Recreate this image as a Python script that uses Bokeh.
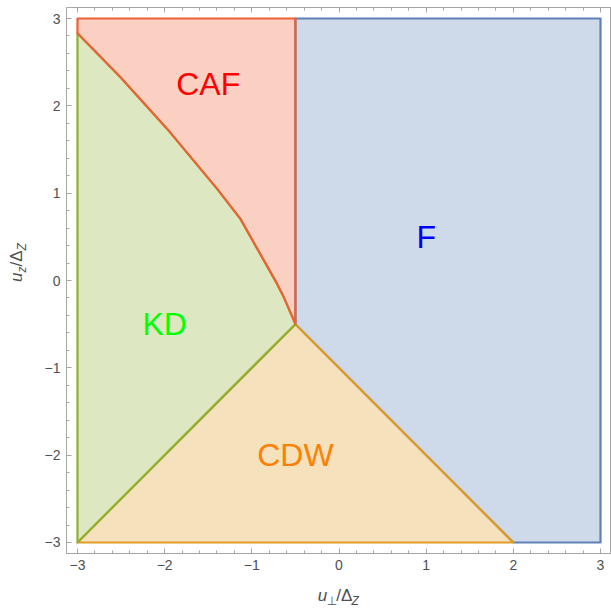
import numpy as np
from bokeh.plotting import figure
from bokeh.layouts import row, column
from bokeh.models import FixedTicker, LinearAxis, Range1d, CustomJSTickFormatter
from bokeh.core.properties import value
from bokeh.embed import file_html
from bokeh.resources import INLINE

# ---- data ----
# KD / CAF boundary curve, from the triple point (-0.5,-0.5) up to the left edge
curve_x = [-0.50, -0.634, -0.71, -1.131, -1.398, -1.971, -2.507, -3.00]
curve_y = [-0.50, -0.19, -0.039, 0.706, 1.049, 1.736, 2.328, 2.83]

f_x = [-0.5, 3.0, 3.0, 2.0, -0.5]
f_y = [3.0, 3.0, -3.0, -3.0, -0.5]
cdw_x = [-3.0, 2.0, -0.5]
cdw_y = [-3.0, -3.0, -0.5]
kd_x = [-3.0] + curve_x
kd_y = [-3.0] + curve_y
caf_x = [-3.0, -0.5] + curve_x
caf_y = [3.0, 3.0] + curve_y

region_names = ["F", "CDW", "KD", "CAF"]
region_xs = [f_x, cdw_x, kd_x, caf_x]
region_ys = [f_y, cdw_y, kd_y, caf_y]
region_colors = ["#5E81B5", "#E19C24", "#8FB032", "#EB6235"]
label_x = [1.0, -0.5, -2.0, -1.5]
label_y = [0.5, -2.0, -0.5, 2.25]
label_colors = ["#0000FF", "#FF8000", "#00FF00", "#FF0000"]

major_ticks = [-3, -2, -1, 0, 1, 2, 3]
tick_labels = {-3: "\u22123", -2: "\u22122", -1: "\u22121", 0: "0", 1: "1", 2: "2", 3: "3"}

FONT = "Liberation Sans"
FRAME = "#a6a6a6"
TXT = "#505050"

# layout sizes (pixels)
W_YT = 36          # y-title strip
H_MAIN = 580       # main plot height
W_MAIN = 611 - W_YT
H_XT = 608 - H_MAIN

p = figure(width=W_MAIN, height=H_MAIN,
           x_range=Range1d(-3.126, 3.126), y_range=Range1d(-3.126, 3.126),
           output_backend="svg", toolbar_location=None,
           min_border_left=66 - W_YT, min_border_right=0, min_border_top=7,
           min_border_bottom=H_MAIN - 553)
p.grid.visible = False
p.outline_line_color = FRAME
p.background_fill_color = "white"
p.border_fill_color = "white"

for xs, ys, c in zip(region_xs, region_ys, region_colors):
    p.patch(xs, ys, fill_color=c, fill_alpha=0.3, line_color=c, line_width=2.2, line_join="round")

p.text(x=label_x, y=label_y, text=region_names, text_color=label_colors,
       text_font=value(FONT), text_font_size="32px", text_align="center", text_baseline="middle")

minor = [round(v, 2) for v in np.arange(-3.2, 3.21, 0.2)]


def style(ax, labels=True):
    ax.ticker = FixedTicker(ticks=major_ticks, minor_ticks=minor)
    ax.axis_line_color = FRAME
    ax.major_tick_line_color = FRAME
    ax.minor_tick_line_color = FRAME
    ax.major_tick_in = 5
    ax.major_tick_out = 0
    ax.minor_tick_in = 3
    ax.minor_tick_out = 0
    if labels:
        ax.major_label_overrides = tick_labels
        ax.major_label_text_font = FONT
        ax.major_label_text_font_size = "14px"
        ax.major_label_text_color = TXT
        ax.major_label_standoff = 6
    else:
        ax.formatter = CustomJSTickFormatter(code="return ''")
        ax.major_label_text_font_size = "0px"
        ax.major_label_standoff = 0


style(p.xaxis[0])
style(p.yaxis[0])
top = LinearAxis()
style(top, False)
p.add_layout(top, "above")


def strip(w, h):
    f = figure(width=w, height=h, x_range=Range1d(0, w), y_range=Range1d(0, h),
               x_axis_type=None, y_axis_type=None, output_backend="svg",
               toolbar_location=None, min_border=0, outline_line_color=None)
    f.grid.visible = False
    return f


def piece(f, text, x, y, size, angle=0.0, italic=False, font=FONT):
    f.text(x=[x], y=[y], text=[text], angle=angle, text_font=value(font),
           text_font_size=f"{size}px", text_font_style="italic" if italic else "normal",
           text_color=TXT, text_align="left", text_baseline="middle")


# x title: u_perp / Delta_Z, centred under x = 0; positions are text middles
xt = strip(W_MAIN, H_XT)
x0 = 338.6 - W_YT - 21.5 - 16
ym = 608 - 595          # main text middle (page y 595)
ys = 608 - 600.5        # subscript middle
piece(xt, "u", x0, ym, 17, italic=True)
piece(xt, "\u22a5", x0 + 9.5, ys, 12, font="DejaVu Sans")
piece(xt, "/\u0394", x0 + 19.6, ym, 17)
piece(xt, "Z", x0 + 35.7, ys, 12, italic=True)

# y title: u_z / Delta_Z (rotated); x positions are text middles
yt = strip(W_YT, H_MAIN)
a = np.pi / 2
xm = 16
xs_ = 21.5
y0 = H_MAIN - 262 - 19.5
piece(yt, "u", xm, y0, 17, angle=a, italic=True)
piece(yt, "z", xs_, y0 + 9.5, 12, angle=a, italic=True)
piece(yt, "/\u0394", xm, y0 + 15.5, 17, angle=a)
piece(yt, "Z", xs_, y0 + 31.6, 12, angle=a, italic=True)

corner = strip(W_YT, H_XT)

layout = row(column(yt, corner), column(p, xt))
open("out.html", "w").write(file_html(layout, INLINE))
